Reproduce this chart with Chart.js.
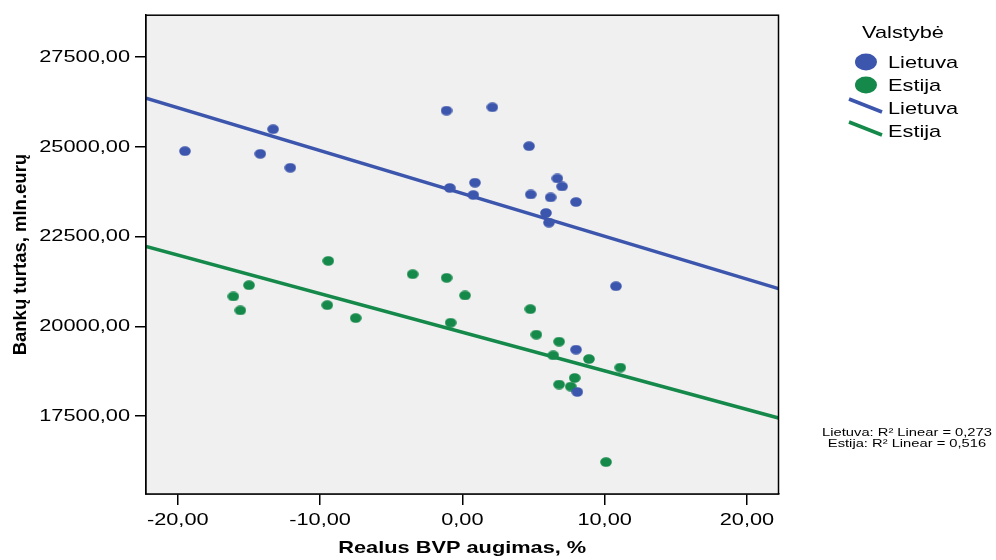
<!DOCTYPE html>
<html>
<head>
<meta charset="utf-8">
<script src="https://cdn.jsdelivr.net/npm/chart.js@4/dist/chart.umd.min.js"></script>
<style>
html, body { margin: 0; padding: 0; background: #ffffff; }
#wrap { width: 996px; height: 560px; position: relative; }
</style>
</head>
<body>
<div id="wrap"><canvas id="c" width="996" height="560"></canvas></div>
<script>
// ---- data ----
const seriesNames = ['Lietuva', 'Estija'];
const gdpLietuva = [-19.49, -13.30, -14.20, -12.09, -1.11, 2.11, -0.88, 0.89, 0.77, 4.69, 4.81, 6.68, 7.01, 6.21, 5.88, 6.09, 7.99, 10.80, 7.99, 8.08];
const assetsLietuva = [24881, 25492, 24806, 24417, 26009, 26103, 23856, 24001, 23659, 25020, 23675, 24120, 23898, 23592, 23159, 22889, 23464, 21120, 19353, 18175];
const gdpEstija = [-16.09, -15.60, -14.99, -9.42, -9.49, -7.49, -3.49, -1.10, -0.82, 0.19, 4.78, 5.20, 6.80, 6.39, 8.90, 11.10, 7.90, 6.80, 7.62, 10.10];
const assetsEstija = [20834, 20445, 21148, 21825, 20592, 20231, 21453, 21353, 20103, 20861, 20481, 19770, 19575, 19195, 19092, 18853, 18564, 18381, 18325, 16222];
const fitX = [-22.23, 22.22];
const fitLietuva = [26359, 21053];
const fitEstija = [22228, 17450];
const r2Values = ['0,273', '0,516'];
const xTickValues = [-20, -10, 0, 10, 20];
const yTickValues = [17500, 20000, 22500, 25000, 27500];

// ---- styling ----
const FONT = '"Liberation Sans", Arial, Helvetica, sans-serif';
const BLUE = '#3d56ad';
const GREEN = '#14894a';
const STRETCH = 1.28;

const canvas = document.getElementById('c');
const ctx = canvas.getContext('2d');
// horizontally stretched text (reference picture is stretched)
(function patch(c) {
  const orig = c.fillText;
  c.fillText = function (text, x, y) {
    const t = this.getTransform();
    if (Math.abs(t.b) > 1e-6 || Math.abs(t.c) > 1e-6) return orig.call(this, text, x, y);
    this.save();
    this.translate(x, y);
    this.scale(STRETCH, 1);
    orig.call(this, text, 0, 0);
    this.restore();
  };
})(ctx);

function ellipseImg(color, w, h) {
  const c = document.createElement('canvas');
  c.width = w; c.height = h;
  const g = c.getContext('2d');
  g.fillStyle = color;
  g.beginPath();
  g.ellipse(w / 2, h / 2, w / 2 - 0.2, h / 2 - 0.2, 0, 0, Math.PI * 2);
  g.fill();
  return c;
}
const fmt = v => Number(v).toFixed(2).replace('.', ',');
const toPts = (xs, ys) => xs.map((x, i) => ({ x: x, y: ys[i] }));

const areaPlugin = {
  id: 'area',
  beforeDatasetsDraw(chart) {
    const a = chart.chartArea, c = chart.ctx;
    c.save();
    c.fillStyle = '#f0f0f0';
    c.fillRect(a.left, a.top, a.right - a.left, a.bottom - a.top);
    c.restore();
  },
  afterDraw(chart) {
    const a = chart.chartArea, c = chart.ctx;
    c.save();
    c.strokeStyle = '#000';
    c.lineWidth = 1.5;
    c.strokeRect(a.left, a.top, a.right - a.left, a.bottom - a.top);
    // legend
    c.fillStyle = '#000';
    c.font = '17px ' + FONT;
    c.textBaseline = 'middle';
    c.textAlign = 'center';
    c.fillText('Valstybė', 903, 33);
    c.textAlign = 'left';
    const cols = [BLUE, GREEN];
    const markerY = [62, 85];
    const lineY = [108, 131];
    for (let i = 0; i < 2; i++) {
      c.fillStyle = cols[i];
      c.beginPath();
      c.ellipse(866, markerY[i], 11, 8.5, 0, 0, Math.PI * 2);
      c.fill();
      c.fillStyle = '#000';
      c.fillText(seriesNames[i], 888, markerY[i] + 1);
    }
    for (let i = 0; i < 2; i++) {
      c.strokeStyle = cols[i];
      c.lineWidth = 3.5;
      c.beginPath();
      c.moveTo(849, lineY[i] - 9);
      c.lineTo(882, lineY[i] + 4);
      c.stroke();
      c.fillStyle = '#000';
      c.fillText(seriesNames[i], 888, lineY[i] + 1);
    }
    // R2 notes
    c.font = '11.5px ' + FONT;
    c.textAlign = 'center';
    c.fillText(seriesNames[0] + ': R² Linear = ' + r2Values[0], 907, 433);
    c.fillText(seriesNames[1] + ': R² Linear = ' + r2Values[1], 907, 444);
    c.restore();
  }
};

new Chart(ctx, {
  type: 'scatter',
  data: {
    datasets: [
      { label: seriesNames[0], data: toPts(gdpLietuva, assetsLietuva), pointStyle: ellipseImg(BLUE, 12, 10), backgroundColor: BLUE, borderColor: BLUE, order: 1 },
      { label: seriesNames[1], data: toPts(gdpEstija, assetsEstija), pointStyle: ellipseImg(GREEN, 12, 10), backgroundColor: GREEN, borderColor: GREEN, order: 2 },
      { label: seriesNames[0], data: toPts(fitX, fitLietuva), showLine: true, pointRadius: 0, borderColor: BLUE, borderWidth: 3.5, order: 3 },
      { label: seriesNames[1], data: toPts(fitX, fitEstija), showLine: true, pointRadius: 0, borderColor: GREEN, borderWidth: 3.5, order: 4 }
    ]
  },
  options: {
    responsive: false,
    animation: false,
    devicePixelRatio: 1,
    layout: { padding: { top: 14, right: 217.5, left: 0, bottom: 0 } },
    plugins: { legend: { display: false }, tooltip: { enabled: false } },
    scales: {
      x: {
        type: 'linear', position: 'bottom', min: fitX[0], max: fitX[1],
        afterBuildTicks: s => { s.ticks = xTickValues.map(v => ({ value: v })); },
        afterFit: s => { s.height = 66; },
        ticks: { autoSkip: false, maxRotation: 0, padding: 4.8, color: '#000', font: { family: FONT, size: 17 }, callback: v => fmt(v) },
        grid: { drawOnChartArea: false, drawTicks: true, tickLength: 11, color: '#000', lineWidth: 1.5 },
        border: { display: true, color: '#000', width: 1.5 },
        title: { display: true, text: 'Realus BVP augimas, %', color: '#000', font: { family: FONT, size: 17, weight: 'bold' }, padding: { top: 0, bottom: 1.8 } }
      },
      y: {
        type: 'linear', position: 'left', min: 15333, max: 28667,
        afterBuildTicks: s => { s.ticks = yTickValues.map(v => ({ value: v })); },
        afterFit: s => { s.width = 146; },
        ticks: { autoSkip: false, padding: 5, color: '#000', font: { family: FONT, size: 17 }, callback: v => fmt(v) },
        grid: { drawOnChartArea: false, drawTicks: true, tickLength: 11, color: '#000', lineWidth: 1.5 },
        border: { display: true, color: '#000', width: 1.5 },
        title: { display: true, text: 'Bankų turtas, mln.eurų', color: '#000', font: { family: FONT, size: 18.5, weight: 'bold' }, padding: { top: 9.4, bottom: 0 } }
      }
    }
  },
  plugins: [areaPlugin]
});
</script>
</body>
</html>
